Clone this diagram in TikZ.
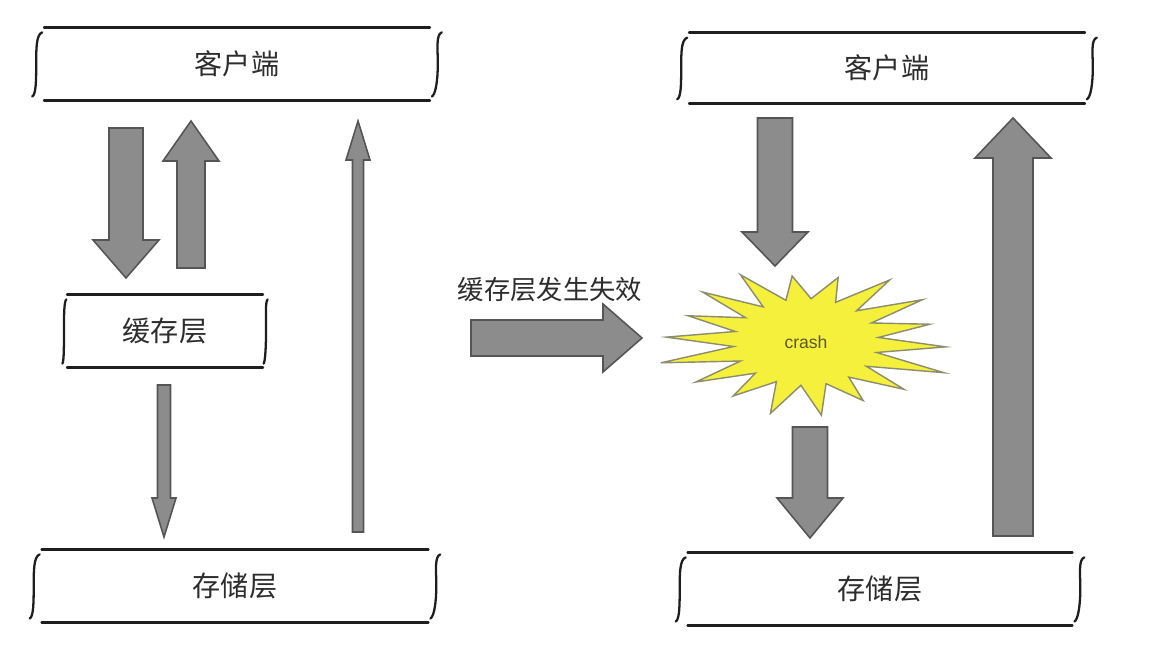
\documentclass[tikz,border=0pt]{standalone}
\usepackage{fontspec}
\newfontfamily\cjk{Noto Sans CJK SC}
\newfontfamily\arial{Liberation Sans}
\usetikzlibrary{calc, positioning}
\definecolor{rulecol}{RGB}{30,30,30}
\definecolor{blockfill}{RGB}{140,140,140}
\definecolor{blockedge}{RGB}{85,85,85}
\definecolor{burstfill}{RGB}{244,240,60}
\definecolor{burstedge}{RGB}{140,140,110}
\definecolor{labeltext}{RGB}{45,45,45}

\begin{document}
\begin{tikzpicture}[x=0.02cm, y=-0.02cm,
  layer/.style={minimum width=#1, minimum height=1.45cm, inner sep=0pt,
    font=\cjk\fontsize{16}{18}\selectfont, text=labeltext},
  rule/.style={rulecol, line width=1.6pt, line cap=round},
  brace/.style={rulecol, line width=1.3pt, line cap=round},
  fat/.style args={#1/#2/#3}{to path={
    ($(\tikztostart)!#1*0.02cm!90:(\tikztotarget)$)
    -- ($(\tikztotarget)!#3*0.02cm!(\tikztostart)!#1*0.02cm!90:(\tikztotarget)$)
    -- ($(\tikztotarget)!#3*0.02cm!(\tikztostart)!#2*0.02cm!90:(\tikztotarget)$)
    -- (\tikztotarget)
    -- ($(\tikztotarget)!#3*0.02cm!(\tikztostart)!#2*0.02cm!-90:(\tikztotarget)$)
    -- ($(\tikztotarget)!#3*0.02cm!(\tikztostart)!#1*0.02cm!-90:(\tikztotarget)$)
    -- ($(\tikztostart)!#1*0.02cm!-90:(\tikztotarget)$) -- cycle}},
  block/.style={fill=blockfill, draw=blockedge, line width=0.9pt, line join=miter},
  burst/.style={fill=burstfill, draw=burstedge, line width=0.8pt, line join=miter}
]
\useasboundingbox (0,0) rectangle (1150,661);

% layers, left side
\node[layer=7.7cm] (clientL) at (237,64) {客户端};
\node[layer=3.9cm] (cache) at (165,331) {缓存层};
\node[layer=7.72cm] (storeL) at (235,586) {存储层};
% layers, right side
\node[layer=7.9cm, minimum height=1.4cm] (clientR) at (887,68) {客户端};
\node[layer=7.68cm] (storeR) at (880,589) {存储层};

\foreach \n/\o in {clientL/10, cache/4, storeL/10, clientR/10, storeR/10} {
  \draw[rule] (\n.north west) -- (\n.north east);
  \draw[rule] (\n.south west) -- (\n.south east);
  \draw[brace] ($(\n.north west)+(-0.2*\o,5)$) .. controls +(-0.6*\o,2) and +(0,-15) ..
    ($(\n.west)+(-0.8*\o,0)$) .. controls +(0,15) and +(0.4*\o,-2) .. ($(\n.south west)+(-1.2*\o,-4)$);
  \draw[brace] ($(\n.north east)+(1.2*\o,5)$) .. controls +(-0.6*\o,2) and +(0,-15) ..
    ($(\n.east)+(0.8*\o,0)$) .. controls +(0,15) and +(0.4*\o,-2) .. ($(\n.south east)+(0.2*\o,-4)$);
}

% arrow ends
\coordinate (a1s) at (126,128);  \coordinate (a1t) at (126,278);
\coordinate (a2s) at (191,268);  \coordinate (a2t) at (191,121);
\coordinate (a3s) at (164,385);  \coordinate (a3t) at (164,537);
\coordinate (a4s) at (358,532);  \coordinate (a4t) at (358,121);
\coordinate (a5s) at (471,338);  \coordinate (a5t) at (642,338);
\coordinate (a6s) at (775,118);  \coordinate (a6t) at (775,266);
\coordinate (a7s) at (810,427);  \coordinate (a7t) at (810,538);
\coordinate (a8s) at (1013,536); \coordinate (a8t) at (1013,118);

\draw[block] (a1s) to[fat=17/33/38] (a1t);
\draw[block] (a2s) to[fat=14/28/40] (a2t);
\draw[block] (a3s) to[fat=6.5/12/39] (a3t);
\draw[block] (a4s) to[fat=5.5/12/39] (a4t);
\draw[block] (a5s) to[fat=18/34/39] (a5t);
\draw[block] (a6s) to[fat=17.5/33/34] (a6t);
\draw[block] (a7s) to[fat=17.5/33/40] (a7t);
\draw[block] (a8s) to[fat=20/38/40] (a8t);

\node[font=\cjk\fontsize{15}{17}\selectfont, text=labeltext] (fail) at (550,290) {缓存层发生失效};

% crash burst
\coordinate (bc) at (806,342);
\draw[burst, shift={(bc)}] plot[samples at={0,10,...,350}, variable=\t]
  ({((mod(\t,20)==0) ? (1+0.08*sin(5*\t)) : 0.52)*140*cos(\t+4)},
   {((mod(\t,20)==0) ? (1+0.08*sin(5*\t)) : 0.62)*70*sin(\t+4)}) -- cycle;
\node[font=\arial\fontsize{10}{12}\selectfont, text=black!45!olive] (crash) at (bc) {crash};
\end{tikzpicture}
\end{document}
